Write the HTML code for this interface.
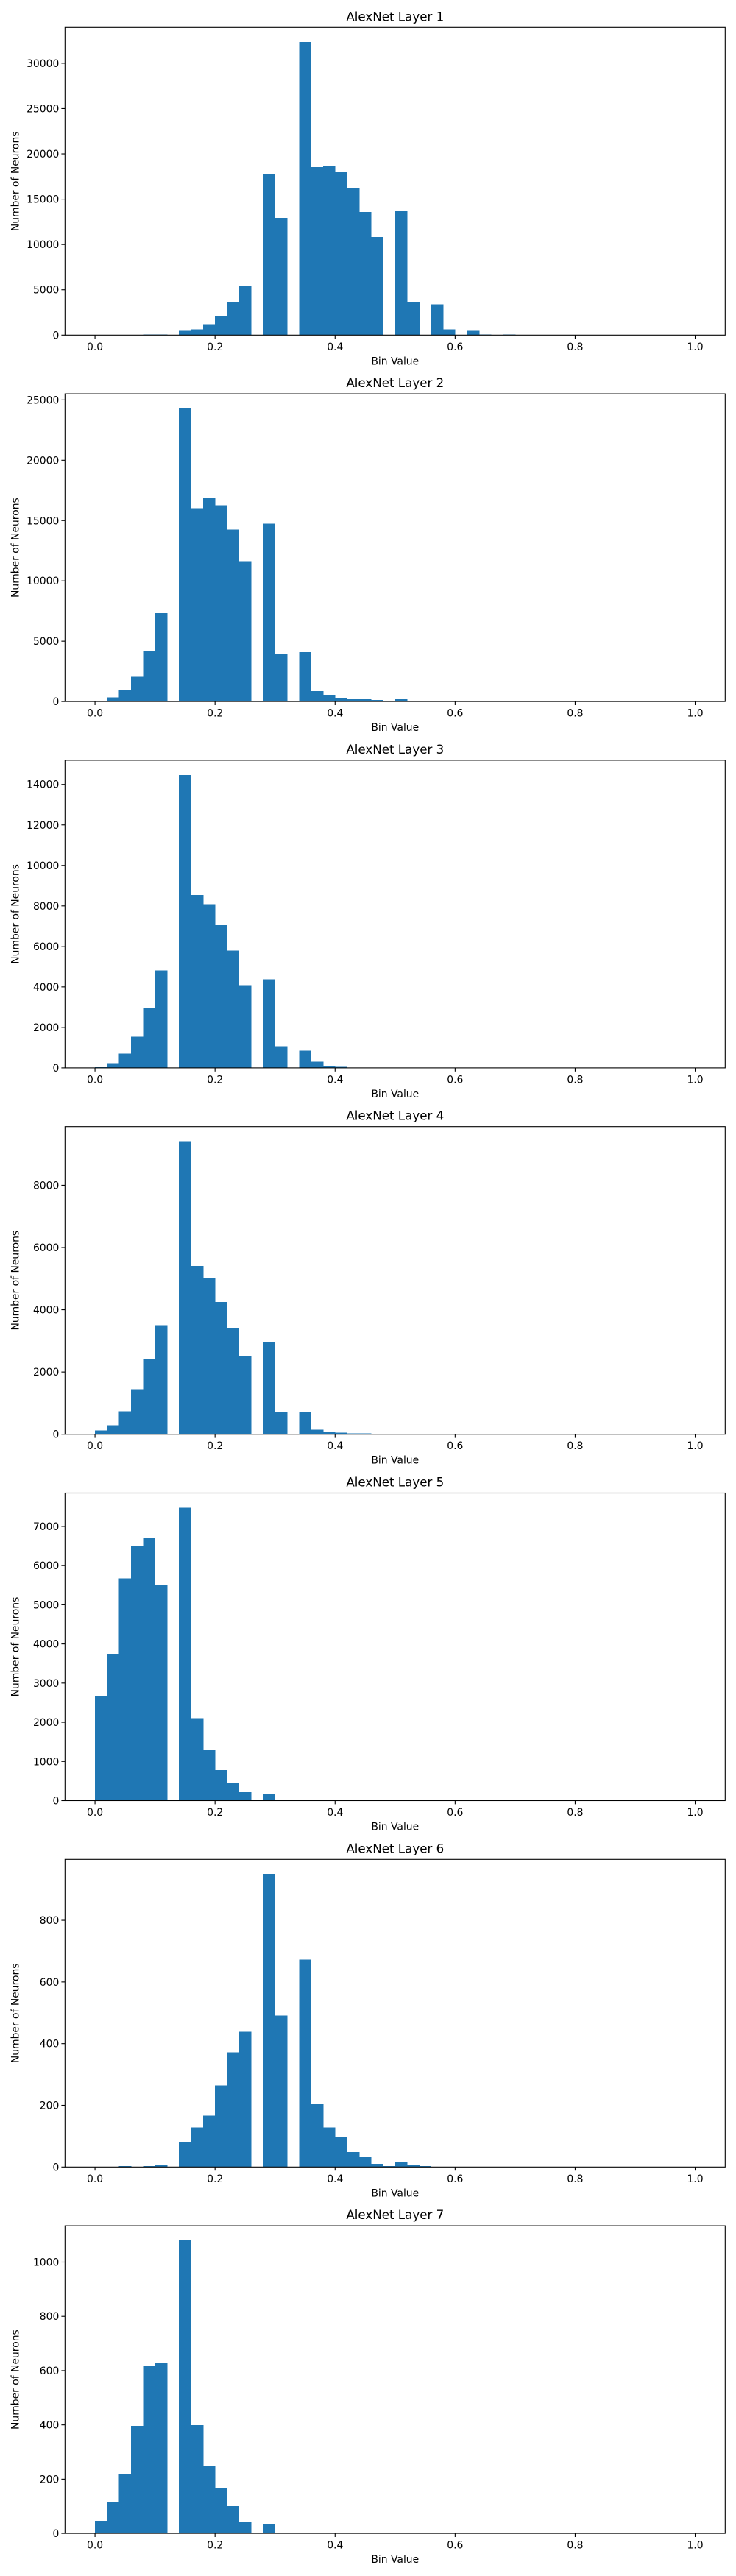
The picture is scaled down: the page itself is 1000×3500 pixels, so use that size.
<!DOCTYPE html>
<html><head><meta charset="utf-8">
<style>
html,body{margin:0;padding:0;background:#fff;}
svg{display:block;font-family:"DejaVu Sans","Liberation Sans",sans-serif;}
</style></head>
<body>
<svg id="fig" width="1000" height="3500" viewBox="0 0 1000 3500" xmlns="http://www.w3.org/2000/svg"></svg>
<script>
// Histogram bin counts (bin width 0.02, starting at 0.0)
const layerTitles = ["AlexNet Layer 1","AlexNet Layer 2","AlexNet Layer 3","AlexNet Layer 4","AlexNet Layer 5","AlexNet Layer 6","AlexNet Layer 7"];
const layer1Counts = [0,0,0,0,80,80,0,490,650,1220,2110,3580,5450,0,17800,12930,0,32330,18540,18620,17970,16260,13580,10810,0,13660,3660,0,3410,650,0,490,80,0,80];
const layer2Counts = [60,330,940,2040,4160,7340,0,24290,16030,16880,16270,14250,11620,0,14740,3980,0,4100,860,550,310,180,180,120,0,180,60,20];
const layer3Counts = [40,230,700,1540,2960,4820,0,14470,8530,8090,7040,5800,4090,0,4380,1070,0,850,300,85,50];
const layer4Counts = [126,290,740,1450,2420,3510,0,9415,5410,5010,4250,3420,2520,0,2970,720,0,720,150,80,55,30,30];
const layer5Counts = [2660,3750,5670,6500,6710,5505,0,7480,2100,1290,780,440,215,0,175,25,0,25,5,5];
const layer6Counts = [0,0,3,0,3,8,0,82,128,166,264,372,439,0,950,491,0,673,204,128,99,49,32,10,3,15,5,3,1];
const layer7Counts = [47,115,220,397,619,627,0,1080,399,250,169,101,44,0,33,3,0,3,3,0,0,3];
const yTickSteps = [5000,5000,2000,2000,1000,200,200];
const xTickValues = [0.0,0.2,0.4,0.6,0.8,1.0];
const binWidth = 0.02;
</script>
<script>
const allCounts = [layer1Counts,layer2Counts,layer3Counts,layer4Counts,layer5Counts,layer6Counts,layer7Counts];
const NS = "http://www.w3.org/2000/svg";
const fig = document.getElementById('fig');
const AX_L = 88.3, AX_R = 985.3, AX_H = 418, TOP0 = 37.3, STEP = 497.8;
function mk(tag, attrs, parent){ const e=document.createElementNS(NS,tag); for(const k in attrs) e.setAttribute(k,attrs[k]); parent.appendChild(e); return e; }
function xScale(v){ return AX_L + (v + 0.05) / 1.1 * (AX_R - AX_L); }

allCounts.forEach((counts, li) => {
  const top = TOP0 + li*STEP, bottom = top + AX_H;
  const ymax = Math.max(...counts) * 1.05;
  const yScale = v => bottom - v / ymax * AX_H;
  const g = mk('g', {}, fig);
  
  
  // bars
  counts.forEach((c, i) => {
    if (c <= 0) return;
    const x0 = xScale(i*binWidth), x1 = xScale((i+1)*binWidth);
    const r = mk('rect', {x:x0, y:yScale(c), width:x1-x0+0.4, height:bottom-yScale(c), fill:'#1f77b4', 'shape-rendering':'crispEdges'}, g);
    
    
  });
  // frame
  const fr = mk('rect', {x:AX_L, y:top, width:AX_R-AX_L, height:AX_H, fill:'none', stroke:'#000', 'stroke-width':1.1}, g);
  
  
  // x ticks
  xTickValues.forEach(v => {
    const x = xScale(v);
    mk('line', {x1:x, x2:x, y1:bottom, y2:bottom+4.9, stroke:'#000', 'stroke-width':1.1}, g);
    const t = mk('text', {x:x, y:bottom+20.5, 'font-size':13.9, 'text-anchor':'middle', fill:'#000'}, g);
    t.textContent = v.toFixed(1);
    
    
  });
  // y ticks
  const st = yTickSteps[li];
  for (let v = 0; v <= ymax; v += st) {
    const y = yScale(v);
    mk('line', {x1:AX_L-4.9, x2:AX_L, y1:y, y2:y, stroke:'#000', 'stroke-width':1.1}, g);
    const t = mk('text', {x:AX_L-8, y:y+5, 'font-size':13.9, 'text-anchor':'end', fill:'#000'}, g);
    t.textContent = String(v);
    
    
  }
  // title
  const tt = mk('text', {x:(AX_L+AX_R)/2, y:top-9, 'font-size':16.7, 'text-anchor':'middle', fill:'#000'}, g);
  tt.textContent = layerTitles[li];
  
  
  // x label
  const xl = mk('text', {x:(AX_L+AX_R)/2, y:bottom+40, 'font-size':13.9, 'text-anchor':'middle', fill:'#000'}, g);
  xl.textContent = 'Bin Value';
  
  
  // y label
  const cy = (top+bottom)/2;
  const yl = mk('text', {x:0, y:0, 'font-size':13.9, 'text-anchor':'middle', fill:'#000', transform:'translate(25.5,'+cy+') rotate(-90)'}, g);
  yl.textContent = 'Number of Neurons';
  
  
});
</script>
</body></html>
